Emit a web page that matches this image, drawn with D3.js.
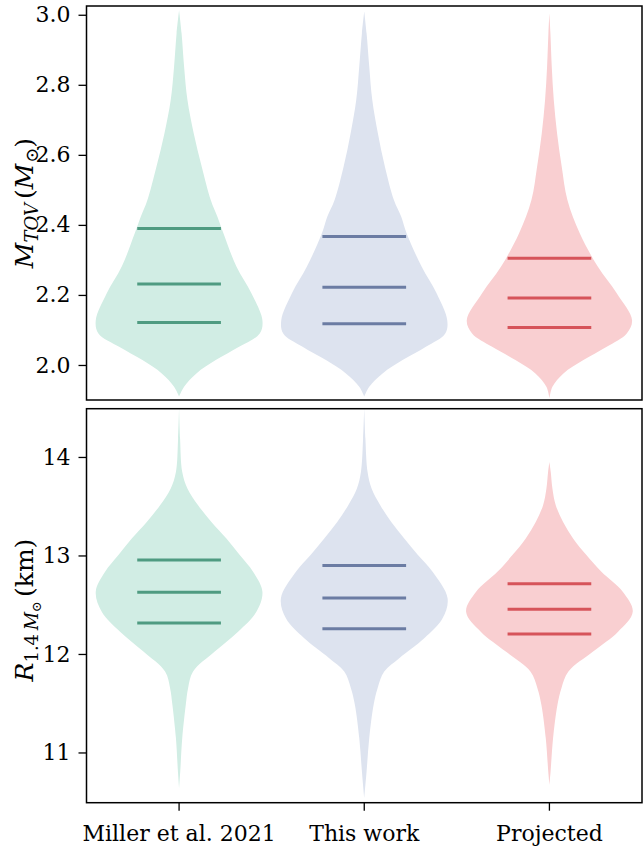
<!DOCTYPE html>
<html><head><meta charset="utf-8">
<script src="https://cdn.jsdelivr.net/npm/d3@7"></script>
<style>
body{margin:0;background:#fff}
svg{display:block}
text{font-family:"DejaVu Serif",serif;fill:#000}
</style>
</head><body>
<svg id="c" width="643" height="846"></svg>
<script>
// ---------------- data ----------------
const categories = ["Miller et al. 2021", "This work", "Projected"];
const mtovTicks = [2.0, 2.2, 2.4, 2.6, 2.8, 3.0];
const r14Ticks = [11, 12, 13, 14];

// quantile lines (16%, 50%, 84%)
const mtovQuantiles = [[2.121, 2.231, 2.390], [2.118, 2.222, 2.367], [2.107, 2.191, 2.305]];
const r14Quantiles = [[12.315, 12.626, 12.953], [12.257, 12.568, 12.899], [12.203, 12.453, 12.713]];

// violin outlines: value grid and relative density
const mtovMillerVals = [3.013, 2.947, 2.852, 2.757, 2.661, 2.566, 2.471, 2.423, 2.376, 2.281, 2.205, 2.128, 2.090, 2.052, 2.014, 1.976, 1.938, 1.910];
const mtovMillerDens = [0, 0.03, 0.06, 0.10, 0.176, 0.272, 0.38, 0.46, 0.532, 0.688, 0.868, 1.0, 0.968, 0.72, 0.44, 0.208, 0.06, 0];
const mtovThisVals = [3.009, 2.947, 2.852, 2.757, 2.661, 2.566, 2.471, 2.423, 2.376, 2.281, 2.205, 2.128, 2.090, 2.052, 2.014, 1.976, 1.938, 1.910];
const mtovThisDens = [0, 0.028, 0.06, 0.096, 0.164, 0.248, 0.356, 0.444, 0.508, 0.688, 0.868, 0.996, 0.972, 0.74, 0.46, 0.22, 0.06, 0];
const mtovProjVals = [3.004, 2.947, 2.852, 2.757, 2.661, 2.566, 2.471, 2.376, 2.281, 2.205, 2.128, 2.090, 2.052, 2.014, 1.976, 1.938, 1.905];
const mtovProjDens = [0, 0.012, 0.028, 0.052, 0.092, 0.148, 0.216, 0.364, 0.58, 0.808, 0.992, 0.928, 0.688, 0.408, 0.168, 0.036, 0];

const r14MillerVals = [14.50, 14.186, 13.848, 13.680, 13.510, 13.341, 13.173, 13.004, 12.834, 12.632, 12.429, 12.226, 12.024, 11.821, 11.653, 11.483, 11.146, 10.808, 10.639];
const r14MillerDens = [0, 0.012, 0.038, 0.10, 0.228, 0.388, 0.568, 0.728, 0.888, 1.0, 0.928, 0.708, 0.428, 0.168, 0.108, 0.08, 0.038, 0.014, 0];
const r14ThisVals = [14.50, 14.186, 13.848, 13.680, 13.510, 13.341, 13.173, 13.004, 12.834, 12.565, 12.362, 12.159, 11.957, 11.821, 11.653, 11.483, 11.146, 10.808, 10.538];
const r14ThisDens = [0, 0.014, 0.04, 0.088, 0.192, 0.324, 0.48, 0.644, 0.82, 1.0, 0.94, 0.72, 0.42, 0.24, 0.16, 0.112, 0.06, 0.028, 0];
const r14ProjVals = [13.949, 13.848, 13.680, 13.510, 13.341, 13.173, 13.004, 12.834, 12.632, 12.429, 12.226, 12.024, 11.821, 11.653, 11.483, 11.146, 10.808, 10.673];
const r14ProjDens = [0, 0.016, 0.036, 0.076, 0.164, 0.284, 0.444, 0.624, 0.88, 1.0, 0.824, 0.524, 0.228, 0.144, 0.096, 0.044, 0.014, 0];

const fillColors = ["#d1ede4", "#dde3ef", "#f9cfd1"];
const lineColors = ["#4f9b81", "#6b7ca3", "#d6545a"];

// ---------------- layout ----------------
const svg = d3.select("#c");
const FS = 22;
const left = 86.5, right = 642;
const panels = [
  {top: 6, bottom: 400, domain: [1.9, 3.025], ticks: mtovTicks, fmt: d3.format(".1f"),
   vals: [mtovMillerVals, mtovThisVals, mtovProjVals], dens: [mtovMillerDens, mtovThisDens, mtovProjDens],
   q: mtovQuantiles, xaxis: false},
  {top: 408.7, bottom: 802.7, domain: [10.49, 14.49], ticks: r14Ticks, fmt: d3.format("d"),
   vals: [r14MillerVals, r14ThisVals, r14ProjVals], dens: [r14MillerDens, r14ThisDens, r14ProjDens],
   q: r14Quantiles, xaxis: true}
];

const x = d3.scaleBand().domain(categories).range([left, right]).padding(0);
const step = x.step();
const w = d3.scaleLinear().domain([0, 1]).range([0, 0.45 * step]);
const qHalf = 0.226 * step;

panels.forEach((p, pi) => {
  const y = d3.scaleLinear().domain(p.domain).range([p.bottom, p.top]);
  const clipId = "clip" + pi;
  svg.append("clipPath").attr("id", clipId).append("rect")
    .attr("x", left).attr("y", p.top).attr("width", right - left).attr("height", p.bottom - p.top);
  const g = svg.append("g").attr("clip-path", `url(#${clipId})`);

  categories.forEach((c, ci) => {
    const cx = x(c) + step / 2;
    const pts = p.vals[ci].map((v, i) => [v, p.dens[ci][i]]);
    const area = d3.area().curve(d3.curveCatmullRom.alpha(0.5))
      .y(d => y(d[0])).x0(d => cx - w(d[1])).x1(d => cx + w(d[1]));
    g.append("path").attr("d", area(pts)).attr("fill", fillColors[ci]).attr("stroke", "none");
    g.selectAll(null).data(p.q[ci]).enter().append("line")
      .attr("x1", cx - qHalf).attr("x2", cx + qHalf)
      .attr("y1", d => y(d)).attr("y2", d => y(d))
      .attr("stroke", lineColors[ci]).attr("stroke-width", 3);
  });

  // y axis
  const ya = svg.append("g").attr("transform", `translate(${left},0)`)
    .call(d3.axisLeft(y).tickValues(p.ticks).tickFormat(p.fmt).tickSize(8).tickPadding(8));
  ya.select(".domain").remove();
  ya.selectAll(".tick line").attr("stroke", "#000").attr("stroke-width", 1.3);
  ya.selectAll(".tick text").attr("font-size", FS).attr("font-family", "DejaVu Serif").attr("fill", "#000");

  if (p.xaxis) {
    const xa = svg.append("g").attr("transform", `translate(0,${p.bottom})`)
      .call(d3.axisBottom(x).tickSize(8).tickPadding(15));
    xa.select(".domain").remove();
    xa.selectAll(".tick line").attr("stroke", "#000").attr("stroke-width", 1.3);
    xa.selectAll(".tick text").attr("font-size", FS).attr("font-family", "DejaVu Serif").attr("fill", "#000");
  }

  svg.append("rect").attr("x", left).attr("y", p.top)
    .attr("width", right - left).attr("height", p.bottom - p.top)
    .attr("fill", "none").attr("stroke", "#000").attr("stroke-width", 1.5);
});

// y labels
const LF = 25, SF = 18;
const l1 = svg.append("text").attr("transform", "translate(33,203) rotate(-90)")
  .attr("text-anchor", "middle").attr("font-size", LF);
l1.append("tspan").attr("font-style", "italic").text("M");
l1.append("tspan").attr("font-style", "italic").attr("font-size", SF).attr("dy", 5).text("TOV");
l1.append("tspan").attr("dy", -5).attr("dx", 4).text("(");
l1.append("tspan").attr("font-style", "italic").text("M");
l1.append("tspan").attr("font-size", SF).attr("dy", 5).attr("dx", 1).text("⊙");
l1.append("tspan").attr("dy", -5).text(")");

const l2 = svg.append("text").attr("transform", "translate(33,610) rotate(-90)")
  .attr("text-anchor", "middle").attr("font-size", LF);
l2.append("tspan").attr("font-style", "italic").text("R");
l2.append("tspan").attr("font-size", SF).attr("dy", 5).text("1.4\u2009");
l2.append("tspan").attr("font-style", "italic").attr("font-size", SF).text("M");
l2.append("tspan").attr("font-size", 13).attr("dy", 3).text("⊙");
l2.append("tspan").attr("dy", -8).attr("dx", 4).text("(km)");
</script>
</body></html>
